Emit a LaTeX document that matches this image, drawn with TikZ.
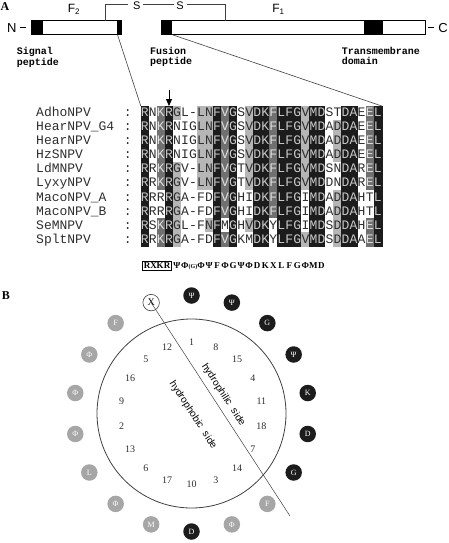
\documentclass[tikz,border=0pt]{standalone}
\usepackage{fontspec}
\setmainfont{Liberation Serif}
\newfontfamily\monof{Liberation Mono}
\newfontfamily\sansf{Liberation Sans}
\usetikzlibrary{arrows.meta}
\definecolor{sh0}{HTML}{FFFFFF}
\definecolor{sh1}{HTML}{B6B6B6}
\definecolor{sh2}{HTML}{707070}
\definecolor{sh3}{HTML}{1C1C1C}
\definecolor{tx0}{HTML}{2E2E2E}
\definecolor{tx1}{HTML}{2E2E2E}
\definecolor{tx2}{HTML}{E0E0E0}
\definecolor{tx3}{HTML}{C8C8C8}
\definecolor{wheelblack}{HTML}{1C1C1C}
\definecolor{wheelgray}{HTML}{A6A6A6}
\definecolor{linegray}{HTML}{404040}
\tikzset{
  cell/.style={font=\monof\fontsize{13}{13}\selectfont, inner sep=0pt, anchor=base},
  seqname/.style={font=\monof\fontsize{13}{13}\selectfont, inner sep=0pt, anchor=base west, text=tx0},
  domlab/.style={font=\monof\bfseries\fontsize{10}{9.3}\selectfont, inner sep=0pt, anchor=north west, align=left},
  barbox/.style={draw=black, line width=0.7pt, fill=white},
  brk/.style={draw=linegray, line width=0.6pt},
  conn/.style={draw=linegray, line width=0.6pt},
  bigsans/.style={font=\sansf\fontsize{13}{13}\selectfont, inner sep=0pt},
  flab/.style={font=\sansf\fontsize{12}{12}\selectfont, inner sep=0pt},
  slab/.style={font=\sansf\fontsize{11}{11}\selectfont, inner sep=0pt},
  panel/.style={font=\bfseries\fontsize{12}{12}\selectfont, inner sep=0pt},
  cons/.style={font=\bfseries\fontsize{9}{9}\selectfont, inner sep=0pt, anchor=base},
  wb/.style={circle, fill=wheelblack, text=white, minimum size=16.5pt, inner sep=0pt, font=\fontsize{8}{8}\selectfont},
  wg/.style={circle, fill=wheelgray, text=white, minimum size=16.5pt, inner sep=0pt, font=\fontsize{8}{8}\selectfont},
  wo/.style={circle, draw=linegray, line width=0.6pt, fill=white, text=black, minimum size=16.5pt, inner sep=0pt, font=\fontsize{10}{10}\selectfont},
  num/.style={font=\fontsize{10}{10}\selectfont, text=tx0, inner sep=0pt},
  side/.style={font=\sansf\fontsize{10}{10}\selectfont, text=black, inner sep=0pt}
}
\begin{document}
\begin{tikzpicture}[x=1pt,y=-1pt]
\useasboundingbox (0,0) rectangle (448,543);
% ---------------- panel A: domain bar
\node[panel] (lblA) at (5,7) {A};
\node[bigsans] (Nterm) at (11.7,27.7) {N};
\draw[line width=0.7pt] (20,27.7) -- (26,27.7);
\draw[barbox] (31,20.7) rectangle (121.7,34.7);
\fill[black] (31,20.7) rectangle (43.3,34.7);
\fill[black] (117.3,20.7) rectangle (121.7,34.7);
\draw[barbox] (161.7,20.7) rectangle (425,34.7);
\fill[black] (161.7,20.7) rectangle (172.3,34.7);
\fill[black] (364,20.7) rectangle (383.3,34.7);
\draw[line width=0.7pt] (428,27.7) -- (433.5,27.7);
\node[bigsans] (Cterm) at (443,27.7) {C};
\node[flab] (F2) at (74,9.5) {F\textsubscript{2}};
\node[flab] (F1) at (278.5,9.5) {F\textsubscript{1}};
\node[slab] (S1) at (136.7,5.5) {S};
\node[slab] (S2) at (180,5.5) {S};
\draw[brk] (105,20.7) -- (105,4.5) -- (127.5,4.5);
\draw[brk] (143,4.5) -- (173.5,4.5);
\draw[brk] (187,4.5) -- (225,4.5) -- (225,20.7);
\node[domlab] (sig) at (16.7,47.5) {Signal\\peptide};
\node[domlab] (fus) at (150,47.5) {Fusion\\peptide};
\node[domlab] (tmd) at (341.7,47.5) {Transmembrane\\domain};
% ---------------- alignment
\def\cw{8.03}
\def\rh{14.05}
\def\atop{106}
\def\ax{140.8}
\foreach \row [count=\r from 0] in {
{R/3,N/0,K/2,R/3,G/1,L/0,-/0,L/1,N/1,F/3,V/2,G/3,S/0,V/1,D/3,K/3,F/2,L/3,F/3,G/3,V/1,M/3,D/3,S/0,T/0,D/3,A/3,E/0,E/2,L/3},
{R/3,N/0,K/2,R/3,N/0,I/0,G/0,L/1,N/1,F/3,V/2,G/3,S/0,V/1,D/3,K/3,F/2,L/3,F/3,G/3,V/1,M/3,D/3,A/0,D/1,D/3,A/3,E/0,E/2,L/3},
{R/3,N/0,K/2,R/3,N/0,I/0,G/0,L/1,N/1,F/3,V/2,G/3,S/0,V/1,D/3,K/3,F/2,L/3,F/3,G/3,V/1,M/3,D/3,A/0,D/1,D/3,A/3,E/0,E/2,L/3},
{R/3,N/0,K/2,R/3,N/0,I/0,G/0,L/1,N/1,F/3,V/2,G/3,S/0,V/1,D/3,K/3,F/2,L/3,F/3,G/3,V/1,M/3,D/3,A/0,D/1,D/3,A/3,E/0,E/2,L/3},
{R/3,R/0,K/2,R/3,G/1,V/0,-/0,L/1,N/1,F/3,V/2,G/3,T/0,V/1,D/3,K/3,F/2,L/3,F/3,G/3,V/1,M/3,D/3,S/0,N/0,D/3,A/3,R/0,E/2,L/3},
{R/3,R/0,K/2,R/3,G/1,V/0,-/0,L/1,N/1,F/3,V/2,G/3,T/0,V/1,D/3,K/3,F/2,L/3,F/3,G/3,V/1,M/3,D/3,D/0,N/0,D/3,A/3,R/0,E/2,L/3},
{R/3,R/0,R/0,R/3,G/1,A/0,-/0,F/0,D/0,F/3,V/2,G/3,H/0,I/0,D/3,K/3,F/2,L/3,F/3,G/3,I/0,M/3,D/3,A/0,D/1,D/3,A/3,H/0,T/0,L/3},
{R/3,R/0,R/0,R/3,G/1,A/0,-/0,F/0,D/0,F/3,V/2,G/3,H/0,I/0,D/3,K/3,F/2,L/3,F/3,G/3,I/0,M/3,D/3,A/0,D/1,D/3,A/3,H/0,T/0,L/3},
{R/3,S/0,K/2,R/3,G/1,L/0,-/0,F/0,N/1,F/3,M/0,G/3,H/0,V/1,D/3,K/3,Y/0,L/3,F/3,G/3,I/0,M/3,D/3,S/0,D/1,D/3,A/3,H/0,E/2,L/3},
{R/3,R/0,K/2,R/3,G/1,A/0,-/0,F/0,D/0,F/3,V/2,G/3,K/0,M/0,D/3,K/3,Y/0,L/3,F/3,G/3,V/1,M/3,D/3,S/0,D/1,D/3,A/3,A/0,E/2,L/3}} {
  \foreach \c/\s [count=\i from 0] in \row {
    \fill[sh\s, draw=sh\s, line width=0.2pt] ({\ax+\i*\cw},{\atop+\r*\rh}) rectangle ++(\cw,\rh);
    \node[cell, text=tx\s] (c\r-\i) at ({\ax+(\i+0.5)*\cw},{\atop+(\r+0.5)*\rh+3.7}) {\c};
  }
}
\foreach \n [count=\r from 0] in {AdhoNPV,HearNPV\_G4,HearNPV,HzSNPV,LdMNPV,LyxyNPV,MacoNPV\_A,MacoNPV\_B,SeMNPV,SpltNPV} {
  \node[seqname] (nm\r) at (36,{\atop+(\r+0.5)*\rh+3.7}) {\n};
  \node[cell, text=tx0] (cl\r) at (127.7,{\atop+(\r+0.5)*\rh+3.7}) {:};
}
% connectors from the bar to the alignment
\coordinate (f2b) at (117.5,34.7);
\coordinate (fpb) at (172.3,34.7);
\coordinate (alTL) at (\ax,\atop);
\coordinate (alTR) at (381.7,\atop);
\draw[conn] (f2b) -- (alTL);
\draw[conn] (fpb) -- (alTR);
\coordinate (arS) at (169,90);
\coordinate (arE) at (169,\atop);
\draw[line width=0.8pt, -{Triangle[width=6pt,length=7pt]}] (arS) -- (arE);
% consensus
\node[cons, draw, line width=0.5pt, inner xsep=1.2pt, inner ysep=1.8pt] (rxkr) at (157,268.5) {RXKR};
\foreach \k/\t in {5/Ψ,6/Φ,7/{\fontsize{6}{6}\selectfont(G)},8/Φ,9/Ψ,10/F,11/Φ,12/G,13/Ψ,14/Φ,15/D,16/K,17/X,18/L,19/F,20/G,21/Φ,22/M,23/D} {
  \node[cons] (cs\k) at ({\ax+(\k-0.5)*\cw},268.5) {\t};
}
% ---------------- panel B: helical wheel
\node[panel] (lblB) at (6,296) {B};
\coordinate (wc) at (191.5,413.5);
\draw[draw=linegray, line width=0.8pt] (wc) circle[radius=94.5pt];
\foreach \a/\l/\t [count=\k] in {90/Ψ/b,70/Ψ/b,50/G/b,30/Ψ/b,10/K/b,-10/D/b,-30/G/b,-50/F/g,-70/Φ/g,-90/D/b,-110/M/g,-130/Φ/g,-150/L/g,-170/Φ/g,170/Φ/g,150/Φ/g,130/F/g,110/X/o} {
  \node[w\t] (w\k) at ({191.5+118*cos(\a)},{413.5-118*sin(\a)}) {\l};
}
\foreach \a/\n in {90/1,70/8,50/15,30/4,10/11,-10/18,-30/7,-50/14,-70/3,-90/10,-110/17,-130/6,-150/13,-170/2,170/9,150/16,130/5,110/12} {
  \node[num] (n\n) at ({191.5+71*cos(\a)},{413.5-71*sin(\a)}) {\n};
}
\coordinate (dlend) at (290,516);
\draw[draw=linegray, line width=0.5pt] (w18.center) -- (dlend);
\node[side, rotate=-57] (philic) at (223.3,394.8) {hydrophilic\hspace{3pt} side};
\node[side, rotate=-57] (phobic) at (193,415) {hydrophobic\hspace{3pt} side};
\end{tikzpicture}
\end{document}
